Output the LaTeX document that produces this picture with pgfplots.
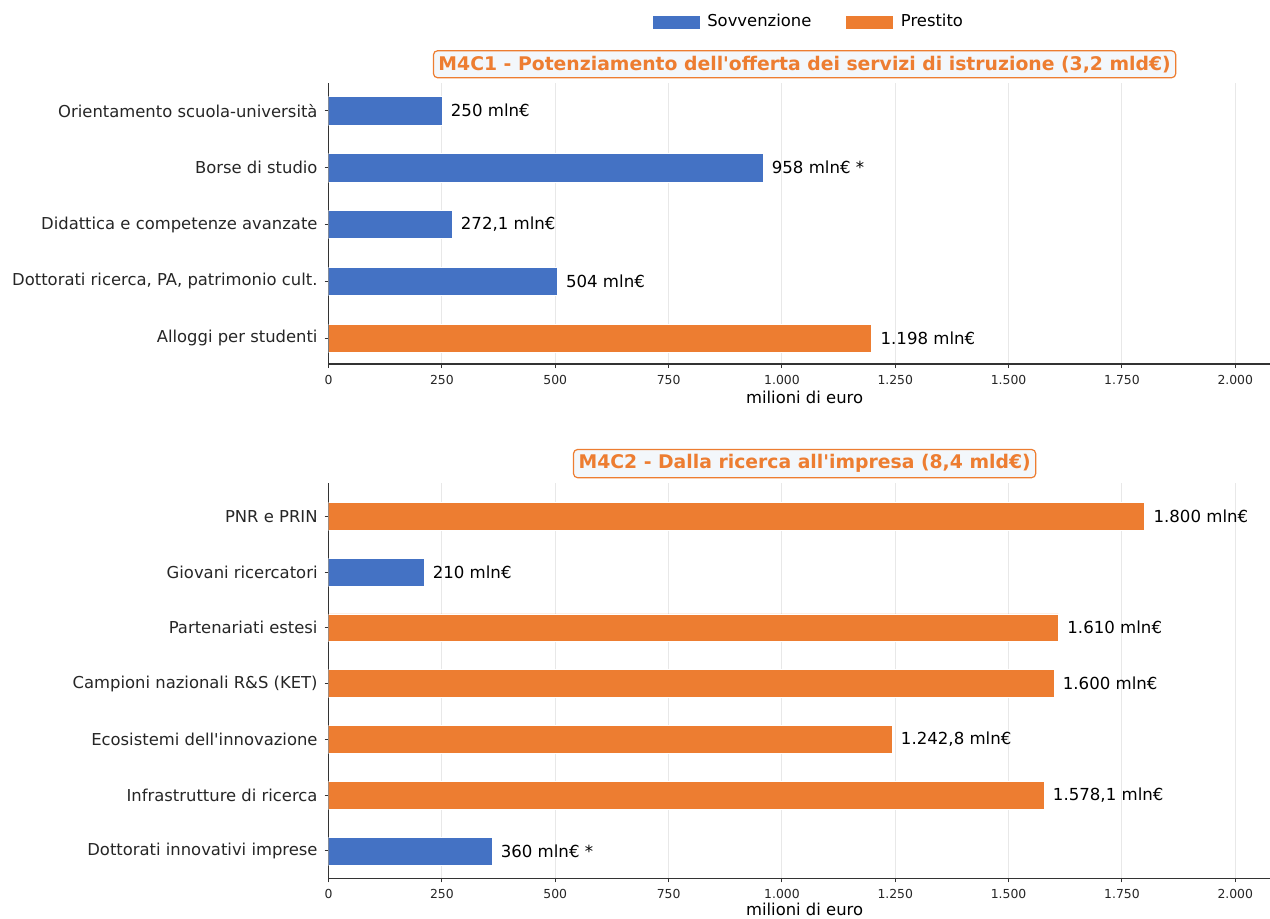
\documentclass[border=0pt]{standalone}
\usepackage{pgfplots}
\pgfplotsset{compat=1.18}
\usepackage{fontspec}
\setmainfont{DejaVu Sans}[Ligatures=TeXOff]
\definecolor{cblue}{HTML}{4472C4}
\definecolor{corange}{HTML}{ED7D31}
\definecolor{boxfill}{HTML}{F3F7FB}
\pgfplotsset{
 myaxis/.style={
   scale only axis, width=476pt, xmin=0, xmax=2100,
   xbar, bar width=0.5, bar shift=0pt, y dir=reverse,
   axis x line*=bottom, axis y line*=left,
   axis line style={-, black!80, line width=0.6pt},
   xtick={0,250,...,2000}, scaled x ticks=false,
   xmajorgrids, grid style={black!9, line width=0.5pt},
   tick align=outside, major tick length=2pt,
   tick style={black!80, line width=0.5pt},
   /pgf/number format/1000 sep={.},
   /pgf/number format/assume math mode=true,
   xticklabel style={font=\fontsize{6.2}{7}\selectfont, text=black!85},
   yticklabel style={font=\fontsize{8.2}{10}\selectfont, text=black!85},
   xlabel={milioni di euro},
   xlabel style={font=\fontsize{8.2}{10}\selectfont, at={(axis description cs:0.5,0)}, anchor=center, yshift=-16.5pt},
   title style={at={(axis description cs:0.5,1)}, anchor=south, yshift=-3.5pt, draw=corange, fill=boxfill, rounded corners=2pt, text=corange, font=\bfseries\fontsize{9.4}{11}\selectfont, inner sep=2.5pt, line width=0.6pt},
   nodes near coords={\pgfplotspointmeta}, point meta=explicit symbolic,
   every node near coord/.append style={font=\fontsize{8.3}{10}\selectfont, anchor=west, xshift=1pt, text=black},
 },
 myimg/.style={legend image code/.code={\fill[##1] (0pt,-3.5pt) rectangle (24pt,3.5pt);}},
}
\begin{document}
\begin{tikzpicture}
\useasboundingbox (0,0) rectangle (635pt,459pt);
\begin{axis}[myaxis,
  at={(164.3pt,277pt)}, anchor=south west, height=140.35pt,
  ymin=-0.48, ymax=4.45, ytick={0,1,2,3,4},
  yticklabels={Orientamento scuola-università, Borse di studio, Didattica e competenze avanzate, {Dottorati ricerca, PA, patrimonio cult.}, Alloggi per studenti},
  title={M4C1 - Potenziamento dell'offerta dei servizi di istruzione (3,2 mld€)},
  legend columns=2,
  legend style={at={(axis description cs:0.505,1.218)}, anchor=center, draw=none, fill=none, font=\fontsize{8.2}{10}\selectfont,
    /tikz/every odd column/.append style={column sep=1.5pt},
    /tikz/every even column/.append style={column sep=15pt}},
]
\addplot[fill=cblue, draw=white, line width=0.3pt, myimg] coordinates {
 (250,0) [250 mln€]
 (958,1) [958 mln€ *]
 (272.1,2) [{272,1 mln€}]
 (504,3) [504 mln€]
};
\addplot[fill=corange, draw=white, line width=0.3pt, myimg] coordinates {
 (1198,4) [1.198 mln€]
};
\legend{Sovvenzione, Prestito}
\end{axis}
\begin{axis}[myaxis,
  at={(164.3pt,19.85pt)}, anchor=south west, height=197.5pt,
  ymin=-0.59, ymax=6.49, ytick={0,1,2,3,4,5,6},
  xlabel style={yshift=1pt},
  yticklabels={PNR e PRIN, Giovani ricercatori, Partenariati estesi, Campioni nazionali R\&S (KET), Ecosistemi dell'innovazione, Infrastrutture di ricerca, Dottorati innovativi imprese},
  title={M4C2 - Dalla ricerca all'impresa (8,4 mld€)},
]
\addplot[fill=cblue, draw=white, line width=0.3pt] coordinates {
 (210,1) [210 mln€]
 (360,6) [360 mln€ *]
};
\addplot[fill=corange, draw=white, line width=0.3pt] coordinates {
 (1800,0) [1.800 mln€]
 (1610,2) [1.610 mln€]
 (1600,3) [1.600 mln€]
 (1242.8,4) [{1.242,8 mln€}]
 (1578.1,5) [{1.578,1 mln€}]
};
\end{axis}
\end{tikzpicture}
\end{document}
